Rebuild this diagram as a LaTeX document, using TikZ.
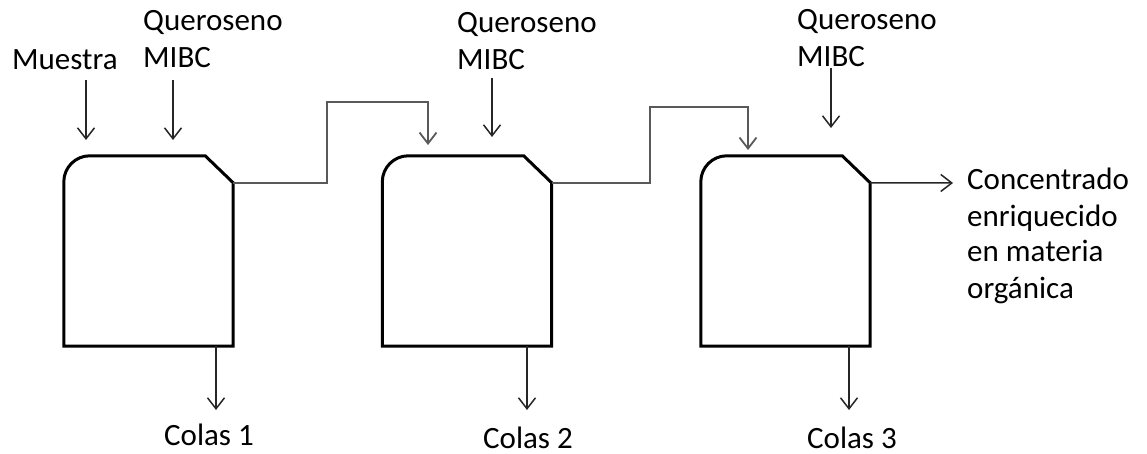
\documentclass[tikz,border=0pt]{standalone}
\usepackage{fontspec}
\setmainfont{Carlito}
\usetikzlibrary{positioning, arrows.meta}

\begin{document}
\begin{tikzpicture}[x=1pt,y=-1pt,node distance=318.5pt,on grid,
    celda/.style={minimum width=169pt,minimum height=190pt,inner sep=0pt},
    borde/.style={line width=3pt,line join=miter},
    flecha/.style={-{Straight Barb[length=11pt,width=17pt]},line width=1.5pt,black!85},
    enlace/.style={flecha,line width=1.8pt,black!65},
    texto/.style={font=\fontsize{31}{37}\selectfont,inner sep=0pt,align=left}]
    \useasboundingbox (0,0) rectangle (1147,454);

    \node[celda] (c1) at (148.5,251) {};
    \node[celda] (c2) [right=of c1] {};
    \node[celda] (c3) [right=of c2] {};

    % celdas de flotacion
    \foreach \c in {c1,c2,c3} {
        \draw[borde] (\c.south west) -- ([yshift=-26pt]\c.north west)
            arc[start angle=180,end angle=90,radius=26pt]
            -- ([xshift=-28pt]\c.north east) -- ([yshift=-27pt]\c.north east)
            -- (\c.south east) -- cycle;
        \coordinate (\c o) at ([yshift=-27pt]\c.north east);
    }

    \node[texto,anchor=base west] (muestra) at (12,70) {Muestra};
    \node[texto,anchor=base west] (q1) at (143,68) {Queroseno\\MIBC};
    \node[texto,anchor=base west] (q2) at (457,70) {Queroseno\\MIBC};
    \node[texto,anchor=base west] (q3) at (797,67) {Queroseno\\MIBC};
    \node[texto,anchor=base west,font=\fontsize{31}{36}\selectfont] (conc) at (967,298)
        {Concentrado\\enriquecido\\en materia\\orgánica};
    \node[texto,anchor=base] (colas1) at (209,445) {Colas 1};
    \node[texto,anchor=base] (colas2) at (528,448) {Colas 2};
    \node[texto,anchor=base] (colas3) at (852,448) {Colas 3};

    \coordinate (m1) at (86,140);
    \coordinate (r1) at (173,140);
    \coordinate (r2) at (492,137);
    \coordinate (r3) at (831,128);
    \coordinate (e2) at (428,145);
    \coordinate (e3) at (748,150);
    \coordinate (s3) at (953,183);
    \coordinate (t1) at (216,410);
    \coordinate (t2) at (527,410);
    \coordinate (t3) at (849,410);

    \draw[flecha] ([yshift=60pt]m1) -- (m1);
    \draw[flecha] ([yshift=60pt]r1) -- (r1);
    \draw[flecha] ([yshift=59pt]r2) -- (r2);
    \draw[flecha] ([yshift=60pt]r3) -- (r3);

    \draw[enlace] (c1o) -- ++(94,0) |- ([yshift=43pt]e2) -- (e2);
    \draw[enlace] (c2o) -- ++(98,0) |- ([yshift=43pt]e3) -- (e3);
    \draw[flecha] (c3o) -- (s3);

    \draw[flecha] (t1 |- c1.south) -- (t1);
    \draw[flecha] (t2 |- c2.south) -- (t2);
    \draw[flecha] (t3 |- c3.south) -- (t3);
\end{tikzpicture}
\end{document}
